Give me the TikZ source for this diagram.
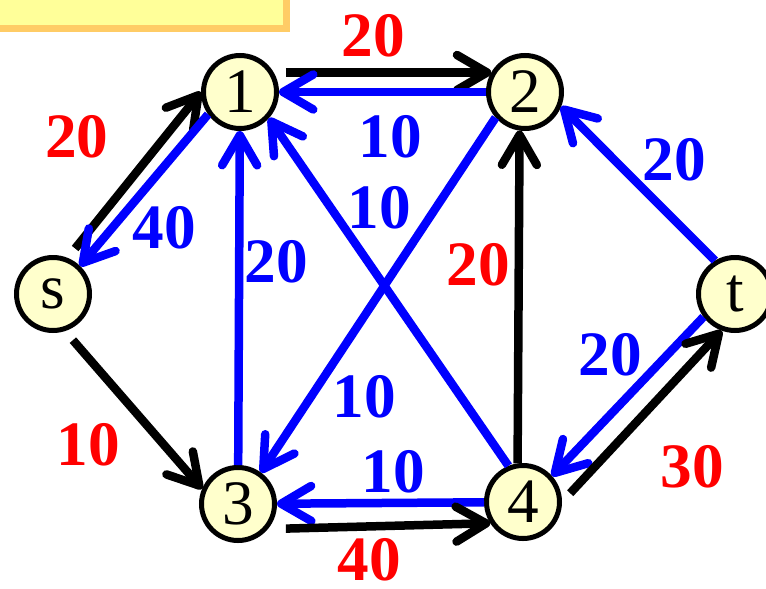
\documentclass[tikz,border=0pt]{standalone}
\usepackage{fontspec}
\setmainfont{Liberation Serif}
\usetikzlibrary{arrows.meta}
\definecolor{vtxfill}{HTML}{FFFFCC}
\definecolor{titlefill}{HTML}{FFFF99}
\definecolor{titleedge}{HTML}{FFCC66}

\begin{document}
\begin{tikzpicture}[x=0.2mm, y=-0.2mm,
  vtx/.style={circle, draw, line width=1mm, fill=vtxfill, minimum size=14.6mm, inner sep=0pt, font=\fontsize{36}{40}\selectfont},
  flow/.style={line width=1.7mm, -{Straight Barb[length=6mm, width=7mm, round]}},
  fwd/.style={flow, black, shorten <=2.4mm},
  res/.style={flow, blue},
  caplab/.style={font=\fontsize{36}{40}\selectfont\bfseries, text=red, inner sep=0pt},
  reslab/.style={caplab, text=blue}]
  \useasboundingbox (0,0) rectangle (766,588);
  % title box (cut by the frame)
  \draw[titleedge, fill=titlefill, line width=1.4mm] (-20,-20) rectangle (286,28);
  % vertices
  \node[vtx] (s) at (53,294) {s};
  \node[vtx] (v1) at (240,92) {1};
  \node[vtx] (v2) at (525,92) {2};
  \node[vtx] (v3) at (238,504) {3};
  \node[vtx] (v4) at (523,502) {4};
  \node[vtx] (t) at (735,294) {t};
  % capacities (black) and residual arcs (blue)
  \draw[fwd] (s.68) -- (v1.180);
  \draw[res] (v1.215) -- (s.46);
  \draw[fwd] (v1.30) -- (v2.150);
  \draw[res] (v2) -- (v1);
  \draw[fwd] (s.288) -- (v3.157);
  \draw[res] (v3) -- (v1);
  \draw[res] (v4.112) -- (v1.318);
  \draw[res] (v2.221) -- (v3.54);
  \draw[fwd, shorten <=0pt] (v4.98) -- (v2.262);
  \draw[res] (t.121) -- (v2.338);
  \draw[res] (t.216) -- (v4.42);
  \draw[fwd] (v4.0) -- (t.250);
  \draw[res] (v4) -- (v3);
  \draw[fwd, shorten <=3.6mm] (v3.320) -- (v4.213);
  % labels
  \node[caplab] (c12) at (373,36) {20};
  \node[reslab] (r21) at (390,137) {10};
  \node[caplab] (cs1) at (77,137) {20};
  \node[reslab] (r1s) at (164,228) {40};
  \node[reslab] (r31) at (276,262) {20};
  \node[reslab] (r41) at (379,208) {10};
  \node[caplab] (c42) at (478,265) {20};
  \node[reslab] (r23) at (364,397) {10};
  \node[reslab] (rt2) at (674,160) {20};
  \node[reslab] (rt4) at (610,355) {20};
  \node[caplab] (c4t) at (692,467) {30};
  \node[reslab] (r43) at (393,472) {10};
  \node[caplab] (c34) at (369,560) {40};
  \node[caplab] (cs3) at (88,445) {10};
\end{tikzpicture}
\end{document}
